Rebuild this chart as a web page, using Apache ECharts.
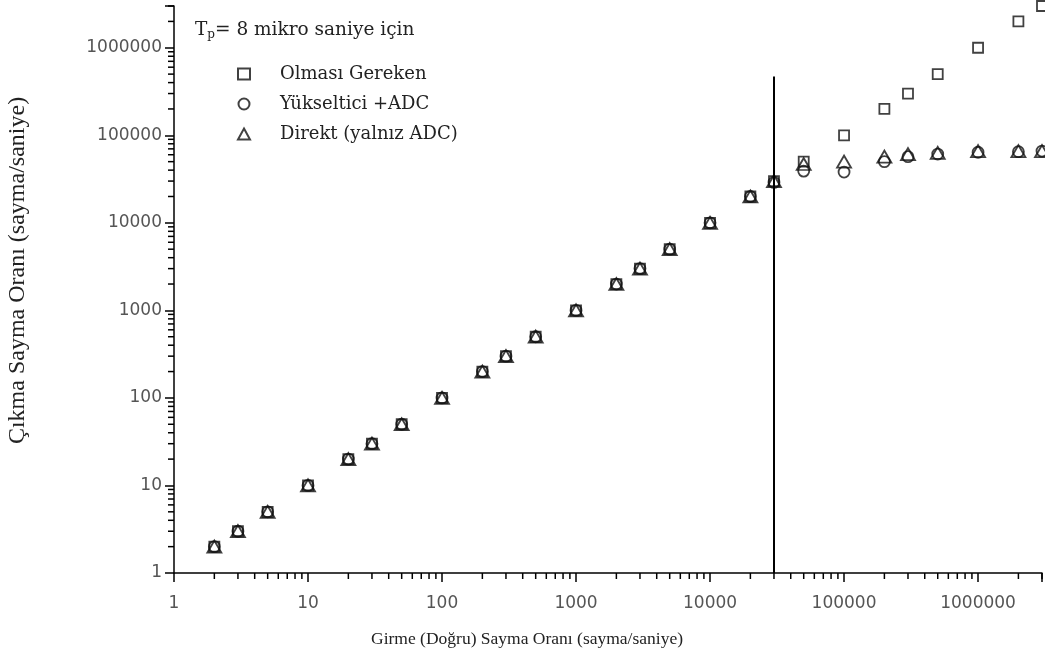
<!DOCTYPE html>
<html>
<head>
<meta charset="utf-8">
<script src="https://cdn.jsdelivr.net/npm/echarts@6/dist/echarts.min.js"></script>
<style>
html,body{margin:0;padding:0;background:#fff;}
#chart{width:1045px;height:662px;}
</style>
</head>
<body>
<div id="chart"></div>
<script>
// ---- data ----
const inputRates = [2,3,5,10,20,30,50,100,200,300,500,1000,2000,3000,5000,10000,20000,30000,50000,100000,200000,300000,500000,1000000,2000000,3000000];
const expectedRates = [2,3,5,10,20,30,50,100,200,300,500,1000,2000,3000,5000,10000,20000,30000,50000,100000,200000,300000,500000,1000000,2000000,3000000];
const ampAdcRates = [2,3,5,10,20,30,50,100,200,300,500,1000,2000,3000,5000,10000,20000,29000,39000,38000,50000,57000,61000,64000,65000,66000];
const directRates = [2,3,5,10,20,30,50,100,200,300,500,1000,2000,3000,5000,10000,20000,30000,47000,50000,57000,61000,63000,66000,66000,66000];
const seriesNames = ['Olması Gereken', 'Yükseltici +ADC', 'Direkt (yalnız ADC)'];
const xTickLabels = ['1','10','100','1000','10000','100000','1000000'];
const yTickLabels = ['1','10','100','1000','10000','100000','1000000'];
const minorTickValues = [2,3,4,5,6,7,8,9,20,30,40,50,60,70,80,90,200,300,400,500,600,700,800,900,2000,3000,4000,5000,6000,7000,8000,9000,20000,30000,40000,50000,60000,70000,80000,90000,200000,300000,400000,500000,600000,700000,800000,900000,2000000,3000000];
const limitLineX = 30000;
const limitLineTop = 470000;
const headerText = ['T', 'p', '= 8 mikro saniye için'];
const xTitle = 'Girme (Doğru) Sayma Oranı (sayma/saniye)';
const yTitle = 'Çıkma Sayma Oranı (sayma/saniye)';

const AX_MIN = 1, X_MAX = 3000000, Y_MAX = 3000000;

function pairs(ys){ return inputRates.map((x,i)=>[x, ys[i]]); }
const markerStyle = {color:'rgba(0,0,0,0)', borderColor:'#111', borderWidth:1.8};
const serif = '"Liberation Serif", "Times New Roman", serif';
const wideSerif = '"DejaVu Serif", serif';
const sans = '"DejaVu Sans", sans-serif';

function labelFmt(list){
  return function(v){
    const s = String(Math.round(v));
    return list.indexOf(s) >= 0 ? s : '';
  };
}

const chart = echarts.init(document.getElementById('chart'), null, {renderer:'canvas'});
chart.setOption({
  animation:false,
  backgroundColor:'#fff',
  grid:{left:174, right:3, top:6, bottom:89, containLabel:false, outerBoundsMode:'none'},
  xAxis:{
    type:'log', logBase:10, min:AX_MIN, max:X_MAX,
    axisLine:{show:true, onZero:false, lineStyle:{color:'#000', width:1.5}},
    axisTick:{show:true, inside:false, length:9, lineStyle:{color:'#000', width:1.5}},
    splitLine:{show:false},
    axisLabel:{formatter:labelFmt(xTickLabels), color:'#555', fontFamily:sans, fontSize:17, margin:22},
    name:xTitle, nameLocation:'middle', nameGap:57,
    nameTextStyle:{fontFamily:serif, fontSize:17.5, color:'#222', padding:[0,162,0,0]}
  },
  yAxis:{
    type:'log', logBase:10, min:AX_MIN, max:Y_MAX,
    axisLine:{show:true, onZero:false, lineStyle:{color:'#000', width:1.5}},
    axisTick:{show:true, inside:false, length:9, lineStyle:{color:'#000', width:1.5}},
    splitLine:{show:false},
    axisLabel:{formatter:labelFmt(yTickLabels), color:'#555', fontFamily:sans, fontSize:17, margin:12},
    name:yTitle, nameLocation:'middle', nameGap:144, nameRotate:90,
    nameTextStyle:{fontFamily:serif, fontSize:24, color:'#222', padding:[0,0,0,38]}
  },
  legend:{
    show:true, orient:'vertical', left:232, top:60,
    itemWidth:12, itemHeight:11, itemGap:12, symbolKeepAspect:true,
    data:seriesNames,
    textStyle:{fontFamily:wideSerif, fontSize:18, color:'#222', padding:[0,0,0,25]}
  },
  graphic:[{
    type:'text', left:195, top:21, silent:true,
    style:{
      text:'{m|'+headerText[0]+'}{s|'+headerText[1]+'}{m|'+headerText[2]+'}',
      rich:{
        m:{fontFamily:wideSerif, fontSize:18.5, fill:'#222', lineHeight:22, verticalAlign:'top'},
        s:{fontFamily:wideSerif, fontSize:12, fill:'#222', lineHeight:22, verticalAlign:'top', padding:[8,0,0,0]}
      }
    }
  }],
  series:[
    {name:seriesNames[0], type:'scatter', data:pairs(expectedRates), symbol:'rect', symbolSize:10, itemStyle:markerStyle, clip:false, z:3,
     markLine:{silent:true, symbol:['none','none'], label:{show:false}, lineStyle:{color:'#000', width:2, type:'solid'},
       data:[[{coord:[limitLineX, AX_MIN]},{coord:[limitLineX, limitLineTop]}]]}},
    {name:seriesNames[1], type:'scatter', data:pairs(ampAdcRates), symbol:'circle', symbolSize:11, itemStyle:markerStyle, clip:false, z:3},
    {name:seriesNames[2], type:'scatter', data:pairs(directRates), symbol:'triangle', symbolSize:[14,12], itemStyle:markerStyle, clip:false, z:4},
    {name:'xMinor', type:'custom', clip:false, silent:true, z:2,
     data:minorTickValues.map(v=>[v]),
     encode:{x:0},
     renderItem:function(params, api){
       const p = api.coord([api.value(0), AX_MIN]);
       return {type:'line', shape:{x1:p[0], y1:p[1], x2:p[0], y2:p[1]+6}, style:{stroke:'#000', lineWidth:1.5}};
     }},
    {name:'yMinor', type:'custom', clip:false, silent:true, z:2,
     data:minorTickValues.map(v=>[AX_MIN, v]),
     encode:{x:0, y:1},
     renderItem:function(params, api){
       const p = api.coord([AX_MIN, api.value(1)]);
       return {type:'line', shape:{x1:p[0]-6, y1:p[1], x2:p[0], y2:p[1]}, style:{stroke:'#000', lineWidth:1.5}};
     }}
  ]
});
</script>
</body>
</html>
